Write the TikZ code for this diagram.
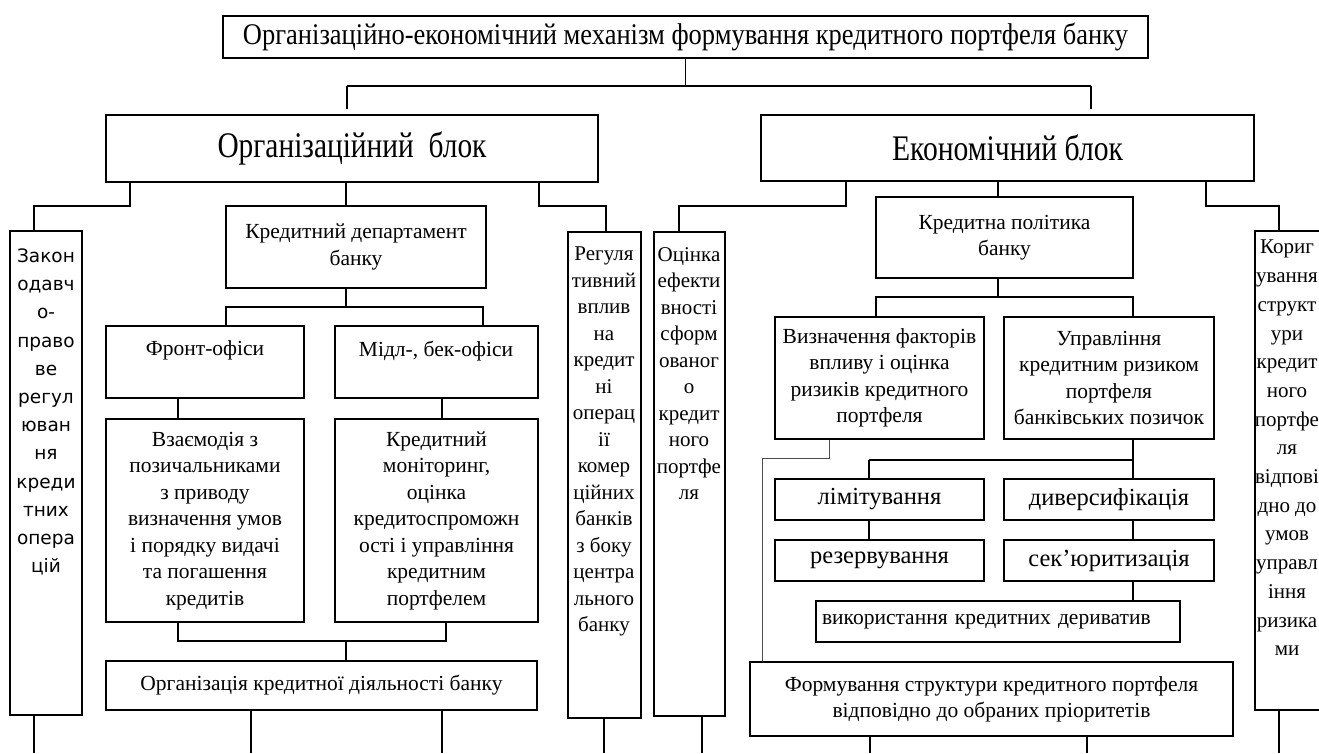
\documentclass[tikz,border=0pt]{standalone}
\usepackage{fontspec}
\setmainfont{Liberation Serif}
\newfontfamily\lawsans{DejaVu Sans}
\usepackage{graphicx}
% \cellbox[options]{name}{x1}{y1}{x2}{y2}{text}: a framed box given by its corners
\newcommand\cellbox[7][]{%
  \node[cell,#1,minimum width={(#5-#3)*1pt},minimum height={(#6-#4)*1pt}]
    (#2) at ({(#3+#5)/2},{(#4+#6)/2}) {#7};}
% centred block of lines, shifted vertically by #1
\newcommand\linesblock[2]{\raisebox{#1}{\begin{tabular}{@{}c@{}}#2\end{tabular}}}
\begin{document}
\begin{tikzpicture}[x=1pt,y=-1pt,
  cell/.style={draw=black,line width=1.4pt,inner sep=0pt,align=center,
    font=\fontsize{21.5}{26.5}\selectfont},
  bigcell/.style={font=\fontsize{24.5}{28}\selectfont},
  link/.style={draw=black,line width=1.4pt},
  thinlink/.style={draw=black!70,line width=0.8pt},
  coltext/.style={anchor=north,inner sep=0pt,align=center,
    font=\fontsize{21}{26.5}\selectfont},
]
\useasboundingbox (0,0) rectangle (1319,753);

% ---------- top level ----------
\cellbox{title}{223}{16}{1148}{58}{\resizebox{885pt}{\height}{\fontsize{30}{30}\selectfont
  Організаційно-економічний механізм формування кредитного портфеля банку}}
\cellbox{org}{106}{115}{598}{182}{\resizebox{269pt}{\height}{\fontsize{36}{36}\selectfont
  Організаційний\ \ блок}}
\cellbox{econ}{761}{115}{1254}{181}{\resizebox{231pt}{\height}{\fontsize{36}{36}\selectfont
  Економічний блок}}

\coordinate (busL) at (347,86);
\coordinate (busR) at (1091,86);
\draw[link] (title.south) -- (title.south |- busL);
\draw[link] (busL) -- (busR);
\draw[link] (busL) -- ([yshift=5pt]busL |- org.north);
\draw[link] (busR) -- ([yshift=5pt]busR |- econ.north);

% ---------- organisational block ----------
\cellbox{zakon}{10}{231}{82}{715}{}
\node[coltext,font=\lawsans\fontsize{18.5}{28.2}\selectfont] (zakon-t) at (46,248.5)
  {Закон\\одавч\\о-\\право\\ве\\регул\\юван\\ня\\креди\\тних\\опера\\цій};

\cellbox{kd}{226}{206}{486}{288}{Кредитний департамент\\банку}
\cellbox{front}{106}{326}{304}{398}{}
\node[coltext,font=\fontsize{21.5}{26.5}\selectfont] (front-t) at (205,340.5) {Фронт-офіси};
\cellbox{midl}{335}{326}{538}{398}{}
\node[coltext,font=\fontsize{21.5}{26.5}\selectfont] (midl-t) at (436,340.5) {Мідл-, бек-офіси};
\cellbox{vz}{106}{419}{304}{622}{\linesblock{-3pt}{Взаємодія з\\позичальниками\\з приводу\\визначення умов\\і порядку видачі\\та погашення\\кредитів}}
\cellbox{km}{335}{419}{538}{622}{\linesblock{-3pt}{Кредитний\\моніторинг,\\оцінка\\кредитоспроможн\\ості і управління\\кредитним\\портфелем}}
\cellbox{orgk}{106}{661}{537}{710}{Організація кредитної діяльності банку}

\cellbox{reg}{568}{232}{641}{718}{}
\node[coltext] (reg-t) at (604,247)
  {Регуля\\тивний\\вплив\\на\\кредит\\ні\\операц\\ії\\комер\\ційних\\банків\\з боку\\центра\\льного\\банку};

% ---------- economic block ----------
\cellbox{ocin}{654}{232}{725}{716}{}
\node[coltext] (ocin-t) at (689,247)
  {Оцінка\\ефекти\\вності\\сформ\\ованог\\о\\кредит\\ного\\портфе\\ля};

\cellbox{kp}{876}{197}{1133}{278}{Кредитна політика\\банку}
\cellbox{vyzn}{775}{317}{984}{439}{Визначення факторів\\впливу і оцінка\\ризиків кредитного\\портфеля}
\cellbox{upr}{1004}{317}{1214}{439}{Управління\\кредитним ризиком\\портфеля\\банківських позичок}
\cellbox[bigcell]{lim}{775}{479}{984}{520}{лімітування}
\cellbox[bigcell]{dyv}{1004}{479}{1214}{520}{диверсифікація}
\cellbox[bigcell]{rez}{775}{540}{984}{581}{резервування}
\cellbox[bigcell]{sek}{1004}{540}{1214}{581}{сек’юритизація}
\cellbox[text width=352pt,align=left]{vyk}{816}{601}{1180}{642}{використання кредитних дериватив}
\cellbox{form}{750}{662}{1233}{736}{\linesblock{3pt}{Формування структури кредитного портфеля\\відповідно до обраних пріоритетів}}

\cellbox{kor}{1255}{231}{1345}{710}{}
\node[coltext,font=\fontsize{21}{28.7}\selectfont] (kor-t) at (1287,240)
  {Кориг\\ування\\структ\\ури\\кредит\\ного\\портфе\\ля\\відпові\\дно до\\умов\\управл\\іння\\ризика\\ми};

% ---------- connectors: organisational block ----------
\draw[link] (org.south -| 130,0) -- (130,206) -- (34,206) -- (zakon.north -| 34,0);
\draw[link] (org.south -| 346,0) -- (kd.north -| 346,0);
\draw[link] (org.south -| 539,0) -- (539,206) -- (606,206) -- (reg.north -| 606,0);

\draw[link] (kd.south -| 346,0) -- (346,307);
\draw[link] (front.north -| 226,0) -- (226,307) -- (483,307) -- (midl.north -| 483,0);
\draw[link] (front.south -| 178,0) -- (vz.north -| 178,0);
\draw[link] (midl.south -| 442,0) -- (km.north -| 442,0);
\draw[link] (vz.south -| 178,0) -- (178,641) -- (446,641) -- (km.south -| 446,0);
\draw[link] (346,641) -- (orgk.north -| 346,0);

% ---------- connectors: economic block ----------
\draw[link] (econ.south -| 846,0) -- (846,206) -- (679,206) -- (ocin.north -| 679,0);
\draw[link] (econ.south -| 998,0) -- (kp.north -| 998,0);
\draw[link] (econ.south -| 1206,0) -- (1206,206) -- (1279,206) -- (kor.north -| 1279,0);

\draw[link] (kp.south -| 998,0) -- (998,297);
\draw[link] (vyzn.north -| 876,0) -- (876,297) -- (1133,297) -- (upr.north -| 1133,0);
\draw[thinlink] (vyzn.south -| 829,0) -- (829,458) -- (762,458) -- (form.north -| 762,0);
\draw[link] (upr.south -| 1133,0) -- (dyv.north -| 1133,0);
\draw[link] (869,460) -- (1133,460);
\draw[link] (869,460) -- (lim.north -| 869,0);
\draw[link] (lim.south -| 869,0) -- (rez.north -| 869,0);
\draw[link] (dyv.south -| 1133,0) -- (sek.north -| 1133,0);
\draw[link] (sek.south -| 1133,0) -- (vyk.north -| 1133,0);

% ---------- outgoing lines at the bottom edge ----------
\coordinate (outA) at (34,753);
\coordinate (outB) at (251,753);
\coordinate (outC) at (442,753);
\coordinate (outD) at (604,753);
\coordinate (outE) at (702,753);
\coordinate (outF) at (870,753);
\coordinate (outG) at (1087,753);
\coordinate (outH) at (1279,753);
\draw[link] (zakon.south -| outA) -- (outA);
\draw[link] (orgk.south -| outB) -- (outB);
\draw[link] (orgk.south -| outC) -- (outC);
\draw[link] (reg.south -| outD) -- (outD);
\draw[link] (ocin.south -| outE) -- (outE);
\draw[link] (form.south -| outF) -- (outF);
\draw[link] (form.south -| outG) -- (outG);
\draw[link] (kor.south -| outH) -- (outH);
\end{tikzpicture}
\end{document}
